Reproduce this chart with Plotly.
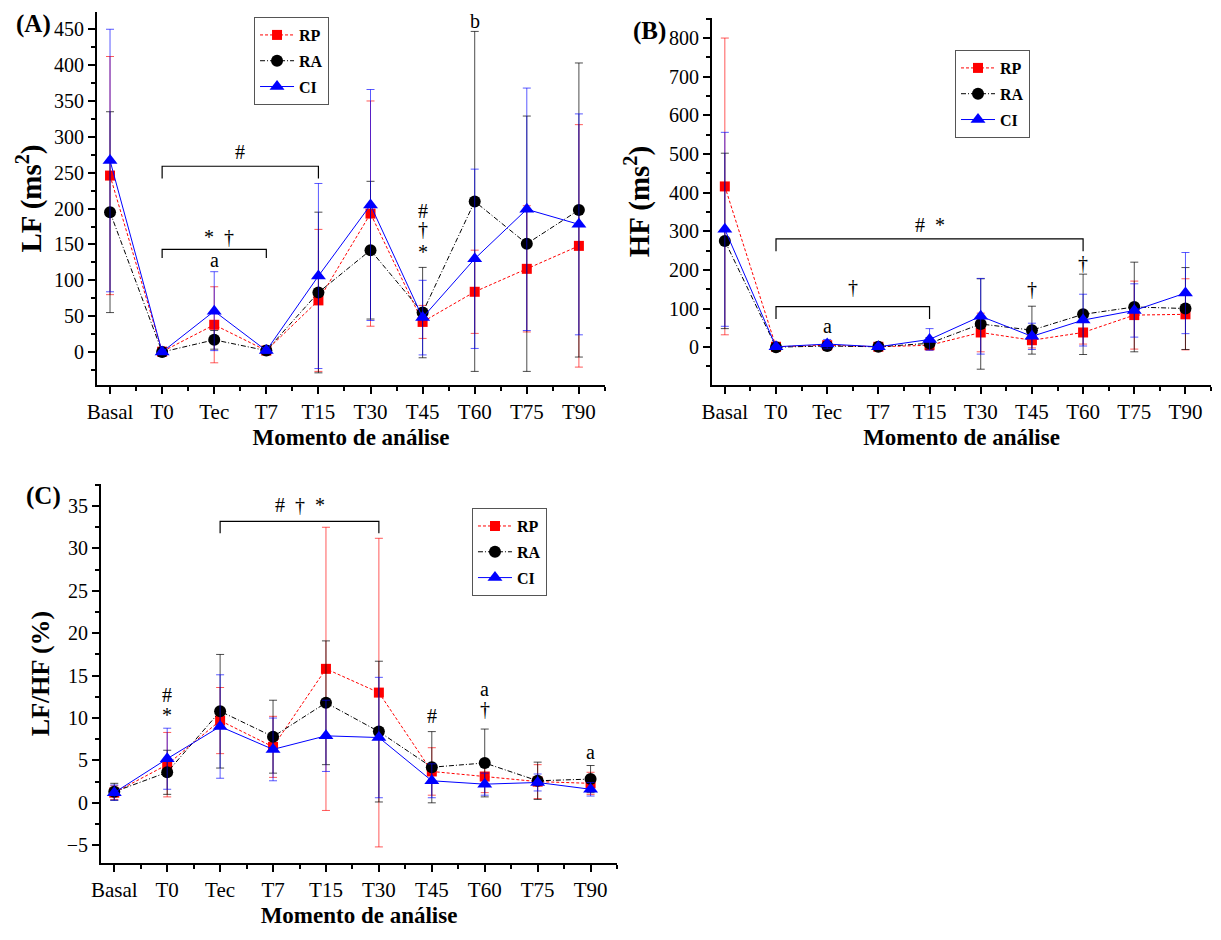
import plotly.graph_objects as go

categories = ["Basal", "T0", "Tec", "T7", "T15", "T30", "T45", "T60", "T75", "T90"]
series_names = ["RP", "RA", "CI"]

# Panel A - LF (ms2)
lf_rp = [246, 0.5, 38, 2, 72, 193, 42, 84, 116, 148]
lf_rp_err = [166, 2, 53, 4, 99, 157, 23, 58, 88, 169]
lf_ra = [195, 0, 17, 2, 83, 142, 55, 210, 151, 198]
lf_ra_err = [140, 2, 13, 4, 112, 96, 63, 237, 178, 205]
lf_ci = [267, 0, 57, 2, 106, 205, 48, 130, 199, 178]
lf_ci_err = [183, 2, 55, 4, 129, 161, 52, 125, 169, 154]

# Panel B - HF (ms2)
hf_rp = [416, 1, 5, 1, 5, 38, 18, 38, 83, 85]
hf_rp_err = [384, 3, 8, 4, 12, 50, 20, 30, 88, 92]
hf_ra = [275, 0, 3, 1, 10, 60, 44, 85, 104, 100]
hf_ra_err = [227, 3, 8, 4, 15, 117, 62, 104, 116, 106]
hf_ci = [305, 1, 8, 1, 20, 80, 28, 70, 95, 140]
hf_ci_err = [251, 3, 12, 5, 28, 98, 34, 67, 69, 105]

# Panel C - LF/HF (%)
ratio_rp = [1.2, 4.5, 9.7, 6.6, 15.8, 13.0, 3.7, 3.1, 2.5, 2.3]
ratio_rp_err = [0.8, 3.8, 3.9, 3.6, 16.7, 18.2, 2.8, 1.9, 2.0, 1.3]
ratio_ra = [1.3, 3.6, 10.8, 7.8, 11.8, 8.4, 4.2, 4.7, 2.6, 2.8]
ratio_ra_err = [1.0, 2.6, 6.7, 4.3, 7.3, 8.3, 4.2, 4.0, 2.2, 1.6]
ratio_ci = [1.2, 5.2, 9.0, 6.3, 7.9, 7.7, 2.6, 2.2, 2.4, 1.6]
ratio_ci_err = [0.9, 3.6, 6.1, 3.7, 4.2, 7.1, 2.0, 1.3, 1.0, 0.8]

# Significance annotations: (text, x position in category index, y value)
notes_a = [("#", 2.5, 279), ("*  \u2020", 2.1, 160), ("a", 2, 128),
           ("#", 6, 197), ("\u2020", 6, 171), ("*", 6, 140), ("b", 7, 462)]
brackets_a = [(1, 4, 259, 242), (1, 3, 143, 131)]
notes_b = [("#  *", 4, 317), ("\u2020", 2.5, 156), ("a", 2, 55),
           ("\u2020", 6, 151), ("\u2020", 7, 218)]
brackets_b = [(1, 7, 280, 248), (1, 4, 105, 73)]
notes_c = [("#  \u2020  *", 3.5, 35.1), ("#", 1, 12.7), ("*", 1, 10.3),
           ("#", 6, 10.2), ("a", 7, 13.4), ("\u2020", 7, 11.1), ("a", 9, 6.0)]
brackets_c = [(2, 5, 33.2, 31.8)]

FONT = "Liberation Serif"
xs = list(range(len(categories)))

styles = {
    "RP": dict(line=dict(color="#ff0000", width=1, dash="3px,2px"),
               marker=dict(symbol="square", size=10, color="#ff0000"),
               err="rgba(255,0,0,0.65)"),
    "RA": dict(line=dict(color="#000000", width=1, dash="5px,2px,1px,2px"),
               marker=dict(symbol="circle", size=12, color="#000000"),
               err="rgba(0,0,0,0.7)"),
    "CI": dict(line=dict(color="#0000ff", width=1),
               marker=dict(symbol="triangle-up", size=13, color="#0000ff"),
               err="rgba(0,0,255,0.65)"),
}

fig = go.Figure()

panels = [
    ("x", "y", "legend", [(lf_rp, lf_rp_err), (lf_ra, lf_ra_err), (lf_ci, lf_ci_err)]),
    ("x2", "y2", "legend2", [(hf_rp, hf_rp_err), (hf_ra, hf_ra_err), (hf_ci, hf_ci_err)]),
    ("x3", "y3", "legend3", [(ratio_rp, ratio_rp_err), (ratio_ra, ratio_ra_err), (ratio_ci, ratio_ci_err)]),
]

for xa, ya, lg, data in panels:
    for name, (vals, errs) in zip(series_names, data):
        st = styles[name]
        fig.add_trace(go.Scatter(
            x=xs, y=vals, name=f"<b>{name}</b>", mode="lines+markers",
            xaxis=xa, yaxis=ya, legend=lg, legendgroup=lg + name,
            line=st["line"], marker=st["marker"],
            error_y=dict(type="data", array=errs, symmetric=True,
                         color=st["err"], thickness=1, width=4),
        ))

annotations = []
shapes = []
for (xa, ya), notes, brackets in [(("x", "y"), notes_a, brackets_a),
                                  (("x2", "y2"), notes_b, brackets_b),
                                  (("x3", "y3"), notes_c, brackets_c)]:
    for text, xv, yv in notes:
        annotations.append(dict(text=text, x=xv, y=yv, xref=xa, yref=ya,
                                showarrow=False, font=dict(family=FONT, size=20, color="black")))
    for x0, x1, ytop, ybot in brackets:
        shapes.append(dict(type="path", xref=xa, yref=ya,
                           path=f"M {x0} {ybot} L {x0} {ytop} L {x1} {ytop} L {x1} {ybot}",
                           line=dict(color="black", width=1.2)))

for text, px, py in [("(A)", 0.005, 1.0), ("(B)", 0.510, 0.9926), ("(C)", 0.013, 0.498)]:
    annotations.append(dict(text=f"<b>{text}</b>", x=px, y=py, xref="paper", yref="paper",
                            xanchor="left", yanchor="top", showarrow=False,
                            font=dict(family=FONT, size=25, color="black")))


def xaxis_cfg(domain, anchor):
    return dict(domain=domain, anchor=anchor, range=[-0.25, 9.5], tickmode="array",
                tickvals=xs, ticktext=categories, showline=True, linewidth=2, linecolor="black",
                mirror=False, ticks="outside", ticklen=7, tickwidth=1.5, tickcolor="black",
                minor=dict(tickmode="array", tickvals=[v + 0.5 for v in xs], ticks="outside",
                           ticklen=4, tickwidth=1.5, tickcolor="black"),
                showgrid=False, zeroline=False, automargin=False,
                tickfont=dict(family=FONT, size=21, color="black"),
                title=dict(text="<b>Momento de análise</b>", standoff=6,
                           font=dict(family=FONT, size=23, color="black")))


def yaxis_cfg(domain, anchor, rng, dtick, tickvals, title, size, standoff):
    return dict(domain=domain, anchor=anchor, range=rng, tickmode="array", tickvals=tickvals,
                showline=True, linewidth=2, linecolor="black", mirror=False,
                ticks="outside", ticklen=7, tickwidth=1.5, tickcolor="black",
                minor=dict(dtick=dtick / 2, ticks="outside", ticklen=4, tickwidth=1.5,
                           tickcolor="black", showgrid=False),
                showgrid=False, zeroline=False, automargin=False,
                tickfont=dict(family=FONT, size=20, color="black"),
                title=dict(text=title, standoff=standoff,
                           font=dict(family=FONT, size=size, color="black")))


legend_common = dict(bgcolor="white", bordercolor="#555555", borderwidth=1,
                     font=dict(family=FONT, size=16, color="black"),
                     xanchor="left", yanchor="top", tracegroupgap=2, itemwidth=34)

fig.update_layout(
    width=1221, height=940, margin=dict(l=0, r=0, t=0, b=0, autoexpand=False),
    paper_bgcolor="white", plot_bgcolor="white",
    showlegend=True,
    xaxis=xaxis_cfg([0.0729, 0.4889], "y"),
    yaxis=yaxis_cfg([0.5989, 0.9957], "x", [-46, 474], 50, list(range(0, 451, 50)),
                    "<b>LF (ms<sup>2</sup>)</b>", 29, 4),
    xaxis2=xaxis_cfg([0.5766, 0.9853], "y2"),
    yaxis2=yaxis_cfg([0.5989, 0.9894], "x2", [-98, 852], 100, list(range(0, 801, 100)),
                     "<b>HF (ms<sup>2</sup>)</b>", 29, 11),
    xaxis3=xaxis_cfg([0.0762, 0.4988], "y3"),
    yaxis3=yaxis_cfg([0.0904, 0.4936], "x3", [-7.1, 37.6], 5, list(range(-5, 36, 5)),
                     "<b>LF/HF (%)</b>", 26, 10),
    legend=dict(x=0.2015, y=0.9904, **legend_common),
    legend2=dict(x=0.7756, y=0.9553, **legend_common),
    legend3=dict(x=0.380, y=0.468, **legend_common),
    annotations=annotations,
    shapes=shapes,
)

fig.write_html("out.html")
